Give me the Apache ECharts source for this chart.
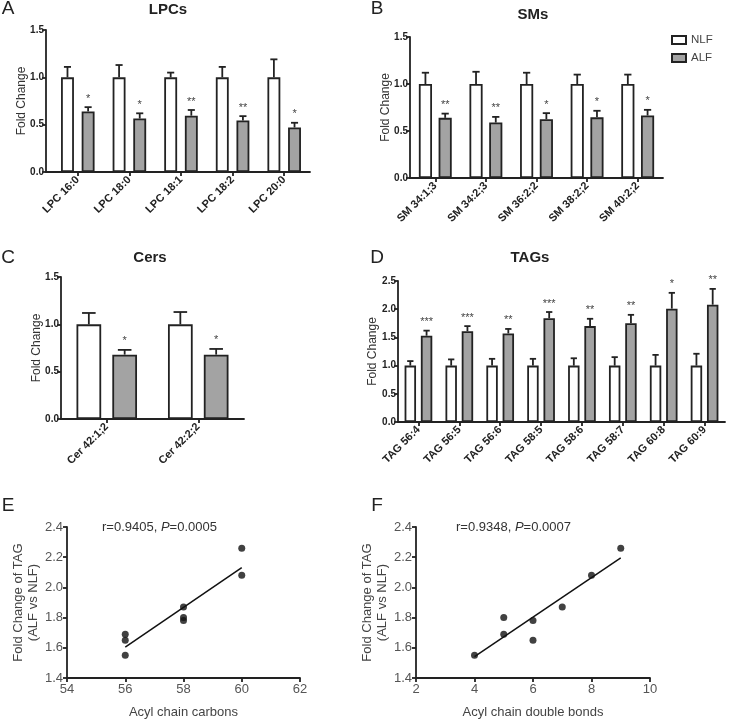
<!DOCTYPE html>
<html><head><meta charset="utf-8">
<script src="https://cdn.jsdelivr.net/npm/echarts@6/dist/echarts.min.js"></script>
<style>html,body{margin:0;padding:0;background:#fff}#c{width:738px;height:722px}</style>
</head><body><div id="c"></div>
<script>
// ---------- data ----------
const lpcCats = ['LPC 16:0','LPC 18:0','LPC 18:1','LPC 18:2','LPC 20:0'];
const lpcNLF = [1,1,1,1,1];
const lpcNLFErr = [0.11,0.13,0.05,0.11,0.19];
const lpcALF = [0.64,0.565,0.595,0.545,0.47];
const lpcALFErr = [0.045,0.055,0.06,0.045,0.05];
const lpcStars = ['*','*','**','**','*'];

const smCats = ['SM 34:1;3','SM 34:2;3','SM 36:2;2','SM 38:2;2','SM 40:2;2'];
const smNLF = [1,1,1,1,1];
const smNLFErr = [0.12,0.13,0.12,0.10,0.10];
const smALF = [0.64,0.59,0.625,0.645,0.665];
const smALFErr = [0.045,0.06,0.065,0.07,0.06];
const smStars = ['**','**','*','*','*'];

const cerCats = ['Cer 42:1;2','Cer 42:2;2'];
const cerNLF = [1,1];
const cerNLFErr = [0.12,0.13];
const cerALF = [0.68,0.68];
const cerALFErr = [0.05,0.06];
const cerStars = ['*','*'];

const tagCats = ['TAG 56:4','TAG 56:5','TAG 56:6','TAG 58:5','TAG 58:6','TAG 58:7','TAG 60:8','TAG 60:9'];
const tagNLF = [1,1,1,1,1,1,1,1];
const tagNLFErr = [0.08,0.11,0.12,0.12,0.13,0.15,0.19,0.21];
const tagALF = [1.53,1.61,1.57,1.84,1.70,1.75,2.01,2.08];
const tagALFErr = [0.09,0.09,0.08,0.11,0.13,0.15,0.28,0.28];
const tagStars = ['***','***','**','***','**','**','*','**'];

const carbonPts = [[56,1.55],[56,1.65],[56,1.69],[58,1.78],[58,1.80],[58,1.87],[60,2.08],[60,2.26]];
const carbonFit = [[56,1.604],[60,2.131]];
const dbPts = [[4,1.55],[5,1.69],[5,1.80],[6,1.65],[6,1.78],[7,1.87],[8,2.08],[9,2.26]];
const dbFit = [[4,1.541],[9,2.195]];

// ---------- styling ----------
const FONT = "'Liberation Sans', Arial, sans-serif";
const INK = '#222';
const GRAY = '#a3a3a3';
const LW = 1.8;

const grids = [], xAxes = [], yAxes = [], series = [];

function errRender(bwFrac, gapFrac, sign, stars) {
  return function (params, api) {
    const ci = api.value(0), v = api.value(1), e = api.value(2);
    const band = api.size([1, 0])[0];
    const bw = band * bwFrac, gap = bw * gapFrac;
    const p0 = api.coord([ci, v]), p1 = api.coord([ci, v + e]);
    const x = p0[0] + sign * (bw + gap) / 2;
    const cap = bw * 0.55;
    const st = { stroke: INK, lineWidth: LW };
    const children = [
      { type: 'line', shape: { x1: x, y1: p0[1], x2: x, y2: p1[1] }, style: st },
      { type: 'line', shape: { x1: x - cap / 2, y1: p1[1], x2: x + cap / 2, y2: p1[1] }, style: st }
    ];
    if (stars) {
      children.push({ type: 'text', x: x, y: p1[1] - 3,
        style: { text: stars[params.dataIndex], textAlign: 'center', textVerticalAlign: 'bottom',
                 fill: '#444', font: '11px ' + FONT } });
    }
    return { type: 'group', children: children };
  };
}

function barPanel(p) {
  const gi = grids.length;
  grids.push({ left: p.left, top: p.top, width: p.width, height: p.height, containLabel: false, outerBoundsMode: 'none' });
  xAxes.push({
    gridIndex: gi, type: 'category', data: p.cats,
    axisLine: { show: true, lineStyle: { color: INK, width: LW } },
    axisTick: { show: true, alignWithLabel: true, length: 4, lineStyle: { color: INK, width: LW } },
    axisLabel: { interval: 0, rotate: 45, margin: 6, fontWeight: 'bold', fontSize: 11, color: INK, fontFamily: FONT },
    splitLine: { show: false }
  });
  yAxes.push({
    gridIndex: gi, type: 'value', min: 0, max: p.yMax, interval: 0.5, offset: p.offset || 0,
    axisLine: { show: true, lineStyle: { color: INK, width: LW } },
    axisTick: { show: true, length: 4, lineStyle: { color: INK, width: LW } },
    axisLabel: { formatter: v => v.toFixed(1), fontWeight: 'bold', fontSize: 10, color: INK, margin: 2, fontFamily: FONT },
    splitLine: { show: false },
    name: 'Fold Change', nameLocation: 'middle', nameGap: p.nameGap, nameMoveOverlap: false,
    nameTextStyle: { fontSize: 12, color: '#333', fontFamily: FONT }
  });
  const bwPct = (p.bw * 100) + '%', gapPct = (p.gap * 100) + '%';
  series.push({ type: 'bar', name: 'NLF', xAxisIndex: gi, yAxisIndex: gi, data: p.nlf, barWidth: bwPct, barGap: gapPct,
    itemStyle: { color: '#ffffff', borderColor: INK, borderWidth: LW }, silent: true, z: 2 });
  series.push({ type: 'bar', name: 'ALF', xAxisIndex: gi, yAxisIndex: gi, data: p.alf, barWidth: bwPct, barGap: gapPct,
    itemStyle: { color: GRAY, borderColor: INK, borderWidth: LW }, silent: true, z: 2 });
  series.push({ type: 'custom', xAxisIndex: gi, yAxisIndex: gi, silent: true, z: 3,
    renderItem: errRender(p.bw, p.gap, -1, null), encode: { x: 0, y: 1 },
    data: p.nlf.map((v, i) => [i, v, p.nlfErr[i]]) });
  series.push({ type: 'custom', xAxisIndex: gi, yAxisIndex: gi, silent: true, z: 3,
    renderItem: errRender(p.bw, p.gap, 1, p.stars), encode: { x: 0, y: 1 },
    data: p.alf.map((v, i) => [i, v, p.alfErr[i]]) });
  if (p.offset > 0) {
    // extend x axis line back to the y axis
    const hi = grids.length;
    grids.push({ left: p.left - p.offset, top: p.top, width: p.offset + 1, height: p.height, containLabel: false, outerBoundsMode: 'none' });
    xAxes.push({ gridIndex: hi, type: 'value', min: 0, max: 1, axisLine: { show: true, lineStyle: { color: INK, width: LW } },
      axisTick: { show: false }, axisLabel: { show: false }, splitLine: { show: false } });
    yAxes.push({ gridIndex: hi, type: 'value', show: false, min: 0, max: 1 });
  }
}

function scatterPanel(p) {
  const gi = grids.length;
  grids.push({ left: p.left, top: p.top, width: p.width, height: p.height, containLabel: false, outerBoundsMode: 'none' });
  const lab = { fontSize: 13, color: '#555', fontFamily: FONT };
  xAxes.push({
    gridIndex: gi, type: 'value', min: p.xMin, max: p.xMax, interval: p.xInt,
    axisLine: { show: true, lineStyle: { color: INK, width: LW } },
    axisTick: { show: true, length: 4, lineStyle: { color: INK, width: LW } },
    axisLabel: Object.assign({ margin: 5 }, lab), splitLine: { show: false },
    name: p.xName, nameLocation: 'middle', nameGap: 28, nameTextStyle: { fontSize: 13, color: '#444', fontFamily: FONT }
  });
  yAxes.push({
    gridIndex: gi, type: 'value', min: 1.4, max: 2.4, interval: 0.2,
    axisLine: { show: true, lineStyle: { color: INK, width: LW } },
    axisTick: { show: true, length: 4, lineStyle: { color: INK, width: LW } },
    axisLabel: Object.assign({ margin: 4, formatter: v => v.toFixed(1) }, lab), splitLine: { show: false },
    name: 'Fold Change of TAG\n(ALF vs NLF)', nameLocation: 'middle', nameGap: p.nameGap,
    nameTextStyle: { fontSize: 13, color: '#444', fontFamily: FONT, lineHeight: 15 }
  });
  series.push({ type: 'line', xAxisIndex: gi, yAxisIndex: gi, data: p.fit, symbol: 'none', silent: true,
    lineStyle: { color: '#111', width: 1.5 }, z: 2 });
  series.push({ type: 'scatter', xAxisIndex: gi, yAxisIndex: gi, data: p.pts, symbolSize: 7, silent: true,
    itemStyle: { color: '#111' }, z: 3 });
}

barPanel({ cats: lpcCats, nlf: lpcNLF, nlfErr: lpcNLFErr, alf: lpcALF, alfErr: lpcALFErr, stars: lpcStars,
  left: 52, top: 30, width: 258, height: 142, yMax: 1.5, offset: 6, nameGap: 18, bw: 0.25, gap: 0.6 });
barPanel({ cats: smCats, nlf: smNLF, nlfErr: smNLFErr, alf: smALF, alfErr: smALFErr, stars: smStars,
  left: 410, top: 37, width: 253, height: 141, yMax: 1.5, offset: 0, nameGap: 18, bw: 0.26, gap: 0.5 });
barPanel({ cats: cerCats, nlf: cerNLF, nlfErr: cerNLFErr, alf: cerALF, alfErr: cerALFErr, stars: cerStars,
  left: 61, top: 277, width: 183, height: 142, yMax: 1.5, offset: 0, nameGap: 18, bw: 0.27, gap: 0.45 });
barPanel({ cats: tagCats, nlf: tagNLF, nlfErr: tagNLFErr, alf: tagALF, alfErr: tagALFErr, stars: tagStars,
  left: 398, top: 281, width: 327, height: 141, yMax: 2.5, offset: 0, nameGap: 19, bw: 0.28, gap: 0.42 });
scatterPanel({ pts: carbonPts, fit: carbonFit, left: 67, top: 527, width: 233, height: 151,
  xMin: 54, xMax: 62, xInt: 2, xName: 'Acyl chain carbons', nameGap: 24 });
scatterPanel({ pts: dbPts, fit: dbFit, left: 416, top: 527, width: 234, height: 151,
  xMin: 2, xMax: 10, xInt: 2, xName: 'Acyl chain double bonds', nameGap: 22 });

function txt(t, x, y, font, align) {
  return { type: 'text', x: x, y: y, silent: true,
    style: { text: t, font: font, fill: INK, textAlign: align || 'center', textVerticalAlign: 'middle' } };
}
const letterFont = '19px ' + FONT, titleFont = 'bold 15px ' + FONT;
const annRich = { n: { font: '13px ' + FONT, fill: '#333' }, i: { font: 'italic 13px ' + FONT, fill: '#333' } };
const graphics = [
  txt('A', 8, 9, letterFont), txt('B', 377, 9, letterFont), txt('C', 8, 258, letterFont),
  txt('D', 377, 258, letterFont), txt('E', 8, 506, letterFont), txt('F', 377, 506, letterFont),
  txt('LPCs', 168, 10, titleFont), txt('SMs', 533, 15, titleFont),
  txt('Cers', 150, 258, titleFont), txt('TAGs', 530, 258, titleFont),
  { type: 'text', x: 102, y: 527, silent: true, style: { text: '{n|r=0.9405, }{i|P}{n|=0.0005}', textVerticalAlign: 'middle', rich: annRich } },
  { type: 'text', x: 456, y: 527, silent: true, style: { text: '{n|r=0.9348, }{i|P}{n|=0.0007}', textVerticalAlign: 'middle', rich: annRich } }
];

const chart = echarts.init(document.getElementById('c'), null, { renderer: 'canvas' });
chart.setOption({
  animation: false,
  backgroundColor: '#fff',
  textStyle: { fontFamily: FONT },
  legend: { data: ['NLF', 'ALF'], orient: 'vertical', left: 666, top: 29, icon: 'rect', itemWidth: 14, itemHeight: 8,
    itemGap: 6, selectedMode: false, textStyle: { fontSize: 11.5, color: '#444', fontFamily: FONT } },
  grid: grids, xAxis: xAxes, yAxis: yAxes, series: series, graphic: graphics
});
</script></body></html>
